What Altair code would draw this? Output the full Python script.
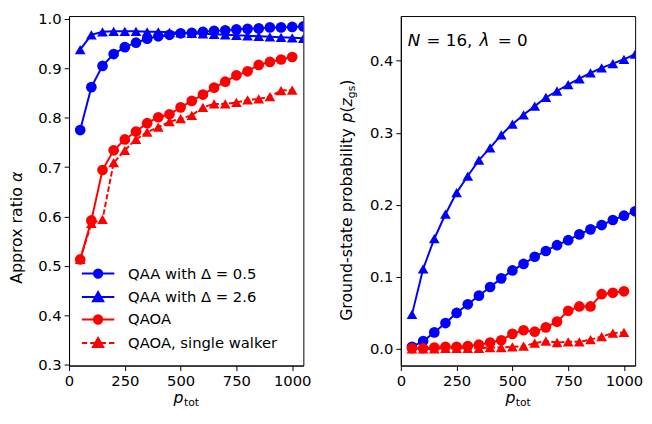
import altair as alt
import pandas as pd

# ---------------- data ----------------
p_blue = [50, 100, 150, 200, 250, 300, 350, 400, 450, 500, 550, 600, 650, 700,
          750, 800, 850, 900, 950, 1000, 1050]
p_red = [50, 100, 150, 200, 250, 300, 350, 400, 450, 500, 550, 600, 650, 700,
         750, 800, 850, 900, 950, 1000]

alpha_qaa05 = [0.775, 0.862, 0.905, 0.929, 0.943, 0.952, 0.960, 0.965, 0.968, 0.971,
               0.972, 0.974, 0.976, 0.977, 0.979, 0.980, 0.981, 0.983, 0.983, 0.984, 0.985]
alpha_qaa26 = [0.938, 0.968, 0.974, 0.975, 0.975, 0.975, 0.974, 0.974, 0.973, 0.972,
               0.971, 0.970, 0.969, 0.968, 0.967, 0.966, 0.965, 0.964, 0.963, 0.962, 0.961]
alpha_qaoa = [0.513, 0.592, 0.694, 0.734, 0.756, 0.772, 0.789, 0.801, 0.807, 0.821,
              0.834, 0.847, 0.861, 0.873, 0.886, 0.894, 0.907, 0.913, 0.918, 0.923]
alpha_walker = [0.513, 0.586, 0.594, 0.709, 0.734, 0.756, 0.771, 0.781, 0.792, 0.798,
                0.805, 0.821, 0.828, 0.828, 0.831, 0.836, 0.838, 0.843, 0.855, 0.856]

prob_qaa05 = [0.003, 0.011, 0.023, 0.036, 0.050, 0.062, 0.074, 0.086, 0.098, 0.109,
              0.118, 0.128, 0.136, 0.144, 0.151, 0.159, 0.166, 0.172, 0.179, 0.185, 0.191]
prob_qaa26 = [0.048, 0.111, 0.153, 0.187, 0.217, 0.240, 0.262, 0.279, 0.297, 0.312,
              0.325, 0.337, 0.349, 0.358, 0.367, 0.375, 0.383, 0.390, 0.396, 0.402, 0.409]
prob_qaoa = [0.001, 0.001, 0.002, 0.003, 0.003, 0.004, 0.006, 0.009, 0.012, 0.021,
             0.026, 0.024, 0.030, 0.038, 0.053, 0.059, 0.059, 0.076, 0.078, 0.080]
prob_walker = [0.000, 0.000, 0.000, 0.001, 0.001, 0.001, 0.001, 0.002, 0.002, 0.003,
               0.004, 0.008, 0.011, 0.009, 0.010, 0.010, 0.013, 0.017, 0.022, 0.023]

names = ["QAA with Δ = 0.5", "QAA with Δ = 2.6", "QAOA", "QAOA, single walker"]
colors = ["#0000ff", "#0000ff", "#ff0000", "#ff0000"]
markers = ["circle", "triangle-up", "circle", "triangle-up"]
dashed = [False, False, False, True]

x_ticks = [0, 250, 500, 750, 1000]
left_y_ticks = [0.3, 0.4, 0.5, 0.6, 0.7, 0.8, 0.9, 1.0]
right_y_ticks = [0.0, 0.1, 0.2, 0.3, 0.4]

# legend symbols: line + marker (unit square paths)
legend_paths = [
    "M-3.3,0L3.3,0M0.85,0A0.85,0.85,0,1,1,-0.85,0A0.85,0.85,0,1,1,0.85,0Z",
    "M-3.3,0L3.3,0M0,-1.0L1.05,0.85L-1.05,0.85Z",
    "M-3.3,0L3.3,0M0.85,0A0.85,0.85,0,1,1,-0.85,0A0.85,0.85,0,1,1,0.85,0Z",
    "M-3.3,0L-2.2,0M-1.6,0L-0.5,0M0.5,0L1.6,0M2.2,0L3.3,0M0,-1.0L1.05,0.85L-1.05,0.85Z",
]


def long_df(p_lists, v_lists):
    rows = []
    for name, ps, vs in zip(names, p_lists, v_lists):
        for p, v in zip(ps, vs):
            rows.append({"p": p, "value": v, "series": name})
    return pd.DataFrame(rows)


df_left = long_df([p_blue, p_blue, p_red, p_red],
                  [alpha_qaa05, alpha_qaa26, alpha_qaoa, alpha_walker])
df_right = long_df([p_blue, p_blue, p_red, p_red],
                   [prob_qaa05, prob_qaa26, prob_qaoa, prob_walker])

W, H = 238, 355
FONT = "DejaVu Sans"
TS = 16  # axis title font size
one = pd.DataFrame({"a": [0]})


def txt(s, x, y, size=TS, italic=False, angle=0, align="left", baseline="alphabetic"):
    kw = dict(text=s, fontSize=size, font=FONT, color="black", align=align,
              baseline=baseline)
    if italic:
        kw["fontStyle"] = "italic"
    if angle:
        kw["angle"] = angle
    return alt.Chart(one).mark_text(**kw).encode(x=alt.value(x), y=alt.value(y))


def panel(df, ydom, yticks, legend):
    xax = alt.Axis(values=x_ticks, format="d", title=None, labelFlush=False, grid=False)
    yax = alt.Axis(values=yticks, format=".1f", title=None, grid=False)
    xenc = alt.X("p:Q", scale=alt.Scale(domain=[0, 1050], nice=False, zero=False), axis=xax)
    yenc = alt.Y("value:Q", scale=alt.Scale(domain=ydom, nice=False, zero=False), axis=yax)
    layers = []
    for name, col, mk, ds in zip(names, colors, markers, dashed):
        base = alt.Chart(df).transform_filter(alt.datum.series == name)
        lkw = dict(color=col, strokeWidth=2, clip=True)
        if ds:
            lkw["strokeDash"] = [5.5, 2.4]
        layers.append(base.mark_line(**lkw).encode(x=xenc, y=yenc))
        layers.append(base.mark_point(shape=mk, filled=True, size=118, color=col,
                                      opacity=1, clip=True).encode(x=xenc, y=yenc))
    if legend:
        leg = alt.Legend(title=None, orient="none", legendX=13, legendY=H - 100.9,
                         direction="vertical", symbolSize=100, symbolStrokeWidth=2,
                         symbolOpacity=1, labelFontSize=15, labelFont=FONT,
                         labelColor="black", labelOffset=23, symbolOffset=9,
                         rowPadding=5.8, padding=0, labelLimit=400)
        layers.append(
            alt.Chart(df).mark_point(filled=True, opacity=0, clip=True).encode(
                x=xenc, y=yenc,
                fill=alt.Fill("series:N", scale=alt.Scale(domain=names, range=colors), legend=leg),
                stroke=alt.Stroke("series:N", scale=alt.Scale(domain=names, range=colors), legend=leg),
                shape=alt.Shape("series:N", scale=alt.Scale(domain=names, range=legend_paths), legend=leg),
            )
        )
    return layers


def x_title():
    return [txt("p", W / 2 - 12.8, H + 38.5, italic=True),
            txt("tot", W / 2 - 2.3, H + 41, size=11)]


# left panel
left_layers = panel(df_left, [0.298, 1.006], left_y_ticks, True)
left_layers += x_title()
# y title: "Approx ratio α" (rotated, reading upward)
lt_start = 272.0
left_layers += [txt("Approx ratio ", -48, lt_start, angle=270),
                txt("α", -48, lt_start - 103.4, italic=True, angle=270)]
left = alt.layer(*left_layers).properties(width=W, height=H)

# right panel
right_layers = panel(df_right, [-0.023, 0.462], right_y_ticks, False)
right_layers += x_title()
pieces = [("Ground-state probability ", 201.4, TS, False, 0),
          ("p", 10.2, TS, True, 0),
          ("(", 6.2, TS, False, 0),
          ("z", 8.4, TS, True, 0),
          ("gs", 12.7, 11, False, 3),
          (")", 6.2, TS, False, 0)]
pos = 309.6
for s, w, fs, it, shift in pieces:
    right_layers.append(txt(s, -50 + shift, pos, size=fs, italic=it, angle=270))
    pos -= w
# annotation N = 16, λ = 0
right_layers += [txt("N", 7, 30, size=17, italic=True),
                 txt("= 16,", 26, 30, size=17),
                 txt("λ", 80, 30, size=17, italic=True),
                 txt("= 0", 98.5, 30, size=17)]
right = alt.layer(*right_layers).properties(width=W, height=H)

chart = (
    alt.hconcat(left, right, spacing=26)
    .resolve_scale(fill="independent", stroke="independent", shape="independent")
    .resolve_legend(fill="independent", stroke="independent", shape="independent")
    .properties(padding={"left": 0, "top": 0, "right": 0, "bottom": 0},
                background="white")
    .configure_view(stroke="black", strokeWidth=1)
    .configure_axis(labelFont=FONT, labelFontSize=15, labelColor="black",
                    tickColor="black", domainColor="black", tickSize=5,
                    labelPadding=3, domainWidth=1, tickWidth=1)
)

chart.save("out.html", embed_options={"renderer": "svg", "actions": False})
